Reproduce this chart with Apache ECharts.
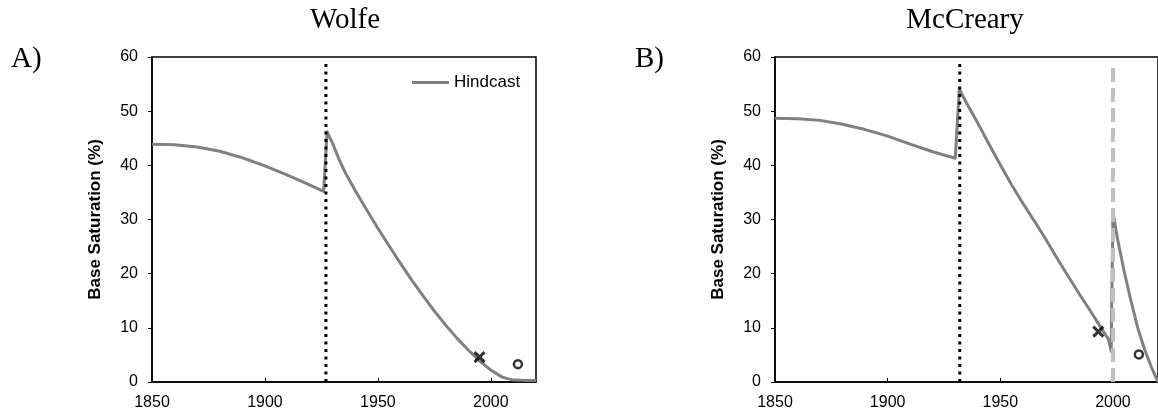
<!DOCTYPE html>
<html>
<head>
<meta charset="utf-8">
<title>Base Saturation hindcast</title>
<script src="https://cdn.jsdelivr.net/npm/echarts@6/dist/echarts.min.js"></script>
<style>
  html, body { margin: 0; padding: 0; background: #fff; }
  #chart { width: 1158px; height: 414px; }
</style>
</head>
<body>
<div id="chart"></div>
<script>
// Wolfe (A)
const wolfeYears = [1850, 1860, 1870, 1880, 1890, 1900, 1910, 1918, 1926, 1927.5, 1930, 1933, 1936, 1940, 1945, 1950, 1955, 1960, 1965, 1970, 1975, 1980, 1985, 1990, 1995, 2000, 2005, 2010, 2015, 2020];
const wolfeHindcast = [43.9, 43.8, 43.4, 42.6, 41.4, 39.9, 38.2, 36.7, 35.2, 46.2, 44.0, 40.9, 38.3, 35.3, 31.8, 28.4, 25.1, 21.9, 18.8, 15.9, 13.1, 10.5, 8.1, 5.9, 3.9, 2.2, 0.9, 0.35, 0.3, 0.3];
const wolfeCross = [1995, 4.6];
const wolfeCircle = [2012, 3.3];
const wolfeDottedYear = 1927;

// McCreary (B)
const mccrearyYears = [1850, 1860, 1870, 1880, 1890, 1900, 1910, 1920, 1930, 1931.8, 1935, 1940, 1945, 1950, 1955, 1960, 1965, 1970, 1975, 1980, 1985, 1990, 1995, 1998, 1999.2, 2000, 2002, 2005, 2008, 2011, 2014, 2017, 2020];
const mccrearyHindcast = [48.7, 48.6, 48.3, 47.6, 46.6, 45.4, 43.9, 42.5, 41.3, 54.1, 51.5, 47.8, 43.9, 40.1, 36.4, 33.0, 29.8, 26.5, 23.0, 19.6, 16.3, 13.1, 9.8, 7.9, 5.7, 31.4, 26.5, 20.4, 15.0, 10.0, 6.1, 2.8, 0];
const mccrearyCross = [1993.5, 9.3];
const mccrearyCircle = [2011.5, 5.1];
const mccrearyDottedYear = 1932;
const mccrearyDashedYear = 2000;

const xTicks = { min: 1850, max: 2020, interval: 50 };
const yTicks = { min: 0, max: 60, interval: 10 };

const pairs = (xs, ys) => xs.map((x, i) => [x, ys[i]]);

const sans = 'Liberation Sans, Arial, sans-serif';
const serif = 'Liberation Serif, Times New Roman, serif';
const crossPath = 'path://M0,0L10,10M10,0L0,10';

const chart = echarts.init(document.getElementById('chart'));

const makeX = (gridIndex) => ({
  type: 'value',
  gridIndex,
  min: xTicks.min,
  max: xTicks.max,
  interval: xTicks.interval,
  axisLine: { lineStyle: { color: '#000', width: 1.5 } },
  axisTick: { inside: true, length: 4, lineStyle: { color: '#000' } },
  axisLabel: {
    color: '#000', fontFamily: sans, fontSize: 16, margin: 13, showMaxLabel: false,
    formatter: (v) => String(v)
  },
  splitLine: { show: false }
});

const makeY = (gridIndex) => ({
  type: 'value',
  gridIndex,
  min: yTicks.min,
  max: yTicks.max,
  interval: yTicks.interval,
  name: 'Base Saturation (%)',
  nameLocation: 'middle',
  nameGap: 48,
  nameTextStyle: { color: '#000', fontFamily: sans, fontSize: 17, fontWeight: 'bold' },
  axisLine: { show: true, lineStyle: { color: '#000', width: 1.5 } },
  axisTick: { show: true, length: 4, lineStyle: { color: '#000' } },
  axisLabel: { color: '#000', fontFamily: sans, fontSize: 16, margin: 14 },
  splitLine: { show: false }
});

const hindcastLine = (name, idx, data) => ({
  name,
  type: 'line',
  xAxisIndex: idx,
  yAxisIndex: idx,
  data,
  symbol: 'none',
  lineStyle: { color: '#808080', width: 3, join: 'round' },
  itemStyle: { color: '#808080' },
  z: 2
});

const vLine = (idx, year, top, color, type, width) => ({
  type: 'line',
  xAxisIndex: idx,
  yAxisIndex: idx,
  data: [[year, 0], [year, top]],
  symbol: 'none',
  silent: true,
  lineStyle: { color, width, type, cap: 'butt' },
  z: 3
});

const marker = (idx, point, kind) => ({
  type: 'scatter',
  xAxisIndex: idx,
  yAxisIndex: idx,
  data: [point],
  symbol: kind === 'x' ? crossPath : 'circle',
  symbolSize: kind === 'x' ? 10 : 8,
  itemStyle: kind === 'x'
    ? { color: 'none', borderColor: '#000', borderWidth: 3 }
    : { color: '#fff', borderColor: '#000', borderWidth: 2.5 },
  z: 4
});

const titleStyle = { fontFamily: serif, fontSize: 29, fontWeight: 'normal', color: '#000' };

const option = {
  animation: false,
  title: [
    { text: 'Wolfe', left: 340, top: 1, textAlign: 'center', textStyle: titleStyle },
    { text: 'McCreary', left: 960, top: 1, textAlign: 'center', textStyle: titleStyle },
    { text: 'A)', left: 6, top: 40, textStyle: titleStyle },
    { text: 'B)', left: 630, top: 40, textStyle: titleStyle }
  ],
  legend: {
    data: ['Hindcast'],
    left: 407,
    top: 69,
    icon: 'rect',
    itemWidth: 37,
    itemHeight: 3,
    itemGap: 5,
    textStyle: { color: '#000', fontFamily: sans, fontSize: 17 }
  },
  grid: [
    { left: 152, top: 57, width: 384, height: 325, show: true, borderColor: '#000', borderWidth: 1.5 },
    { left: 775, top: 57, width: 384, height: 325, show: true, borderColor: '#000', borderWidth: 1.5 }
  ],
  xAxis: [makeX(0), makeX(1)],
  yAxis: [makeY(0), makeY(1)],
  series: [
    hindcastLine('Hindcast', 0, pairs(wolfeYears, wolfeHindcast)),
    vLine(0, wolfeDottedYear, 59.2, '#000', [3, 4.5], 3),
    marker(0, wolfeCross, 'x'),
    marker(0, wolfeCircle, 'o'),

    hindcastLine('Hindcast', 1, pairs(mccrearyYears, mccrearyHindcast)),
    vLine(1, mccrearyDottedYear, 59.2, '#000', [3, 4.5], 3),
    vLine(1, mccrearyDashedYear, 58.3, '#c0c0c0', [14, 6], 4),
    marker(1, mccrearyCross, 'x'),
    marker(1, mccrearyCircle, 'o')
  ]
};

chart.setOption(option);
</script>
</body>
</html>
